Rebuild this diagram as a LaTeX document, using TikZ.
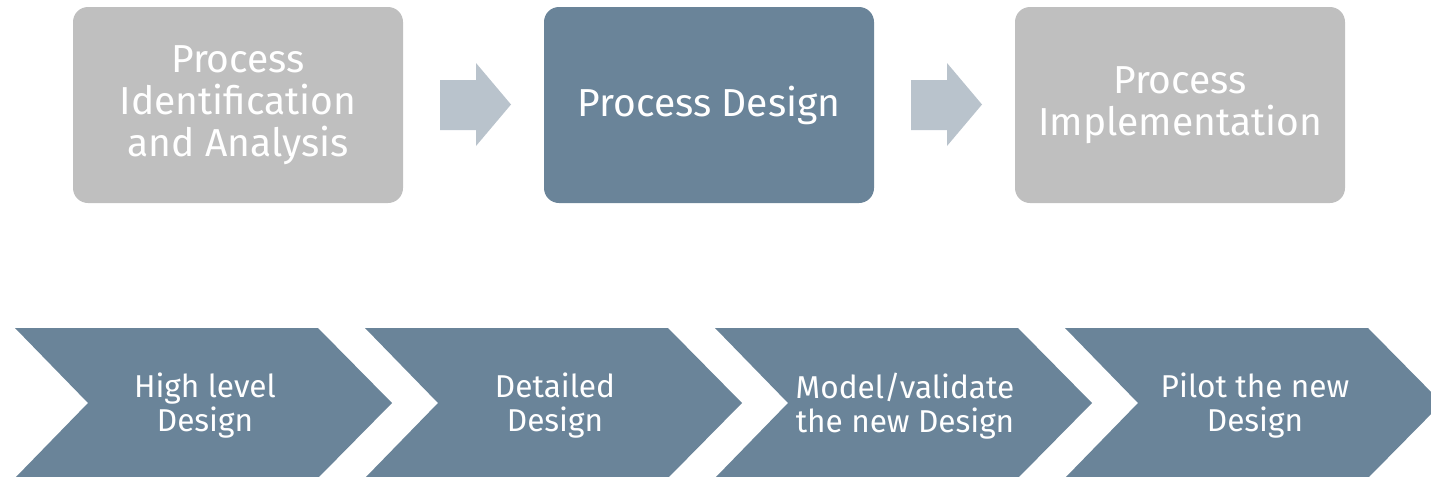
\documentclass[tikz,border=0pt]{standalone}
\usepackage{fontspec}
\setmainfont{Fira Sans}
\definecolor{boxgray}{HTML}{BFBFBF}
\definecolor{slate}{HTML}{6A8499}
\definecolor{arrowgray}{HTML}{B9C3CC}
\begin{document}
\begin{tikzpicture}[x=0.5pt,y=-0.5pt,
  phase/.style={rounded corners=7.5pt, minimum width=165pt, minimum height=98pt,
    text=white, font=\fontsize{19.5}{21}\selectfont, align=center, inner sep=0pt,
    execute at begin node={\vspace*{3pt}}},
  greyphase/.style={phase, fill=boxgray},
  activephase/.style={phase, fill=slate},
  steptext/.style={text=white, font=\fontsize{15.8}{17}\selectfont, align=center, inner sep=0pt},
  blockarrow/.style={fill=arrowgray},
  chevronfill/.style={fill=slate}]
\useasboundingbox (0,0) rectangle (1431,477);
\clip (0,0) rectangle (1431,477);
% top phases
\node[greyphase] (p1) at (238,105) {Process\\Identification\\and Analysis};
\node[activephase] (p2) at (709,105) {Process Design};
\node[greyphase] (p3) at (1180,105) {Process\\Implementation};
% block arrows
\foreach \a in {440,911}{
  \fill[blockarrow] (\a,80) -- (\a+36,80) -- (\a+36,63) -- (\a+71,104.5)
    -- (\a+36,146) -- (\a+36,130) -- (\a,130) -- cycle;
}
% chevrons
\foreach \i in {0,1,2,3}{
  \pgfmathsetmacro{\xo}{15+350*\i}
  \fill[chevronfill] (\xo,328) -- (\xo+303,328) -- (\xo+377,403) -- (\xo+303,478)
    -- (\xo,478) -- (\xo+73,403) -- cycle;
}
\node[steptext] (s1) at (205,406) {High level\\Design};
\node[steptext] (s2) at (555,406) {Detailed\\Design};
\node[steptext] (s3) at (905,406) {Model/validate\\the new Design};
\node[steptext] (s4) at (1255,406) {Pilot the new\\Design};
\end{tikzpicture}
\end{document}
